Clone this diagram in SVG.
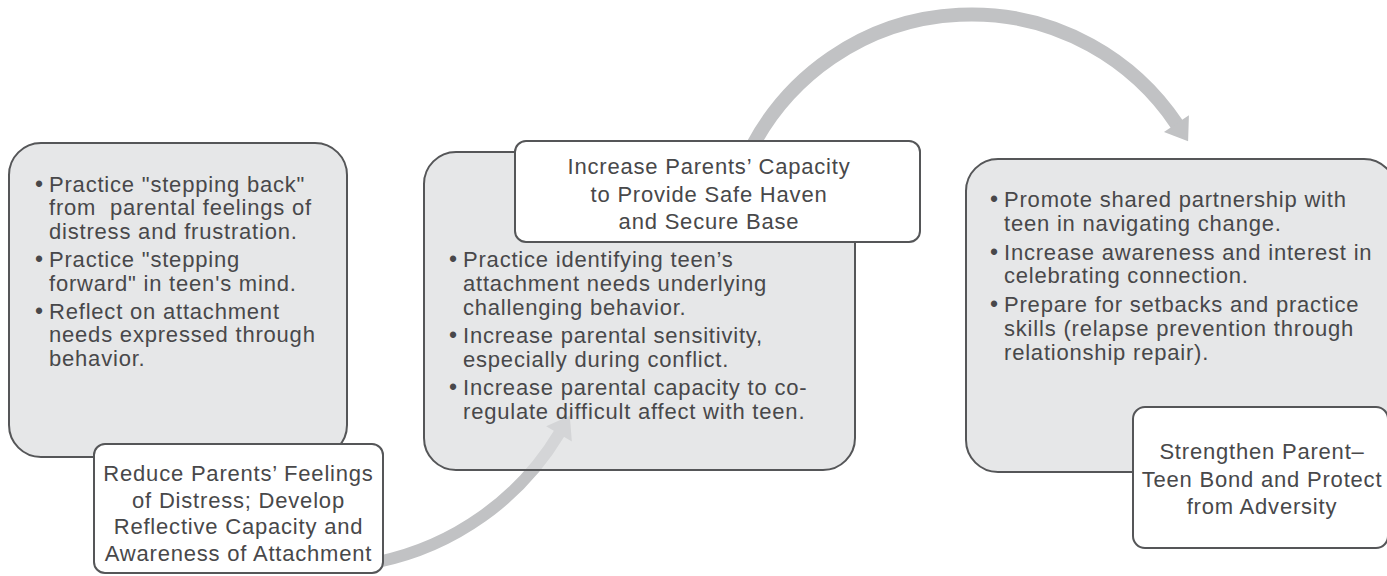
<svg xmlns="http://www.w3.org/2000/svg" width="1387" height="576" viewBox="0 0 1387 576">
  <defs>
    <marker id="head" markerUnits="userSpaceOnUse" orient="auto" markerWidth="24" markerHeight="32" refX="1" refY="16" overflow="visible">
      <path d="M0,1 L21,16 L0,31 Z" fill="#c1c2c4"/>
    </marker>
    <style>
      .panel { fill: #dcdddf; fill-opacity: 0.71; stroke: #555658; stroke-width: 2; }
      .label { fill: #ffffff; stroke: #555658; stroke-width: 2; }
      .flow { fill: none; stroke: #c1c2c4; marker-end: url(#head); }
      text { font-family: "Liberation Sans", Arial, sans-serif; font-size: 22px; letter-spacing: 0.8px; fill: #48484a; }
      .c { text-anchor: middle; }
      .dot { font-size: 23px; letter-spacing: 0; }
    </style>
  </defs>
  <rect width="1387" height="576" fill="#ffffff"/>

  <!-- curved flow arrows between stages -->
  <g id="connectors">
    <path class="flow" stroke-width="12" d="M378,562 A278,278 0 0 0 559.5,433"/>
    <path class="flow" stroke-width="14" d="M753,145 A247.5,247.5 0 0 1 1177,124.5"/>
  </g>

  <!-- stage 1 -->
  <g id="stage1">
    <rect class="panel" x="9" y="143" width="338" height="314" rx="32"/>
    <text class="dot" x="35" y="192">•</text>
    <text x="49" y="192">Practice "stepping back"</text>
    <text x="49" y="215">from&#160; parental feelings of</text>
    <text x="49" y="239">distress and frustration.</text>
    <text class="dot" x="35" y="267">•</text>
    <text x="49" y="267">Practice "stepping</text>
    <text x="49" y="291">forward" in teen's mind.</text>
    <text class="dot" x="35" y="319">•</text>
    <text x="49" y="319">Reflect on attachment</text>
    <text x="49" y="342">needs expressed through</text>
    <text x="49" y="366">behavior.</text>
  </g>
  <g id="stage1-title">
    <rect class="label" x="94" y="444" width="289" height="129" rx="11"/>
    <text class="c" x="238.5" y="481">Reduce Parents’ Feelings</text>
    <text class="c" x="238.5" y="508">of Distress; Develop</text>
    <text class="c" x="238.5" y="534">Reflective Capacity and</text>
    <text class="c" x="238.5" y="561">Awareness of Attachment</text>
  </g>

  <!-- stage 2 -->
  <g id="stage2">
    <rect class="panel" x="424" y="152" width="431" height="318" rx="32"/>
    <text class="dot" x="449" y="267">•</text>
    <text x="463" y="267">Practice identifying teen’s</text>
    <text x="463" y="291">attachment needs underlying</text>
    <text x="463" y="315">challenging behavior.</text>
    <text class="dot" x="449" y="343">•</text>
    <text x="463" y="343">Increase parental sensitivity,</text>
    <text x="463" y="367">especially during conflict.</text>
    <text class="dot" x="449" y="395">•</text>
    <text x="463" y="395">Increase parental capacity to co-</text>
    <text x="463" y="419">regulate difficult affect with teen.</text>
  </g>
  <g id="stage2-title">
    <rect class="label" x="515" y="141" width="405" height="101" rx="11"/>
    <text class="c" x="709" y="174">Increase Parents’ Capacity</text>
    <text class="c" x="709" y="202">to Provide Safe Haven</text>
    <text class="c" x="709" y="229">and Secure Base</text>
  </g>

  <!-- stage 3 -->
  <g id="stage3">
    <rect class="panel" x="966" y="159" width="430" height="313" rx="32"/>
    <text class="dot" x="990" y="207">•</text>
    <text x="1004" y="207">Promote shared partnership with</text>
    <text x="1004" y="231">teen in navigating change.</text>
    <text class="dot" x="990" y="260">•</text>
    <text x="1004" y="260">Increase awareness and interest in</text>
    <text x="1004" y="283">celebrating connection.</text>
    <text class="dot" x="990" y="312">•</text>
    <text x="1004" y="312">Prepare for setbacks and practice</text>
    <text x="1004" y="336">skills (relapse prevention through</text>
    <text x="1004" y="360">relationship repair).</text>
  </g>
  <g id="stage3-title">
    <rect class="label" x="1133" y="407" width="255" height="141" rx="12"/>
    <text class="c" x="1262" y="459">Strengthen Parent–</text>
    <text class="c" x="1262" y="487">Teen Bond and Protect</text>
    <text class="c" x="1262" y="514">from Adversity</text>
  </g>
</svg>
